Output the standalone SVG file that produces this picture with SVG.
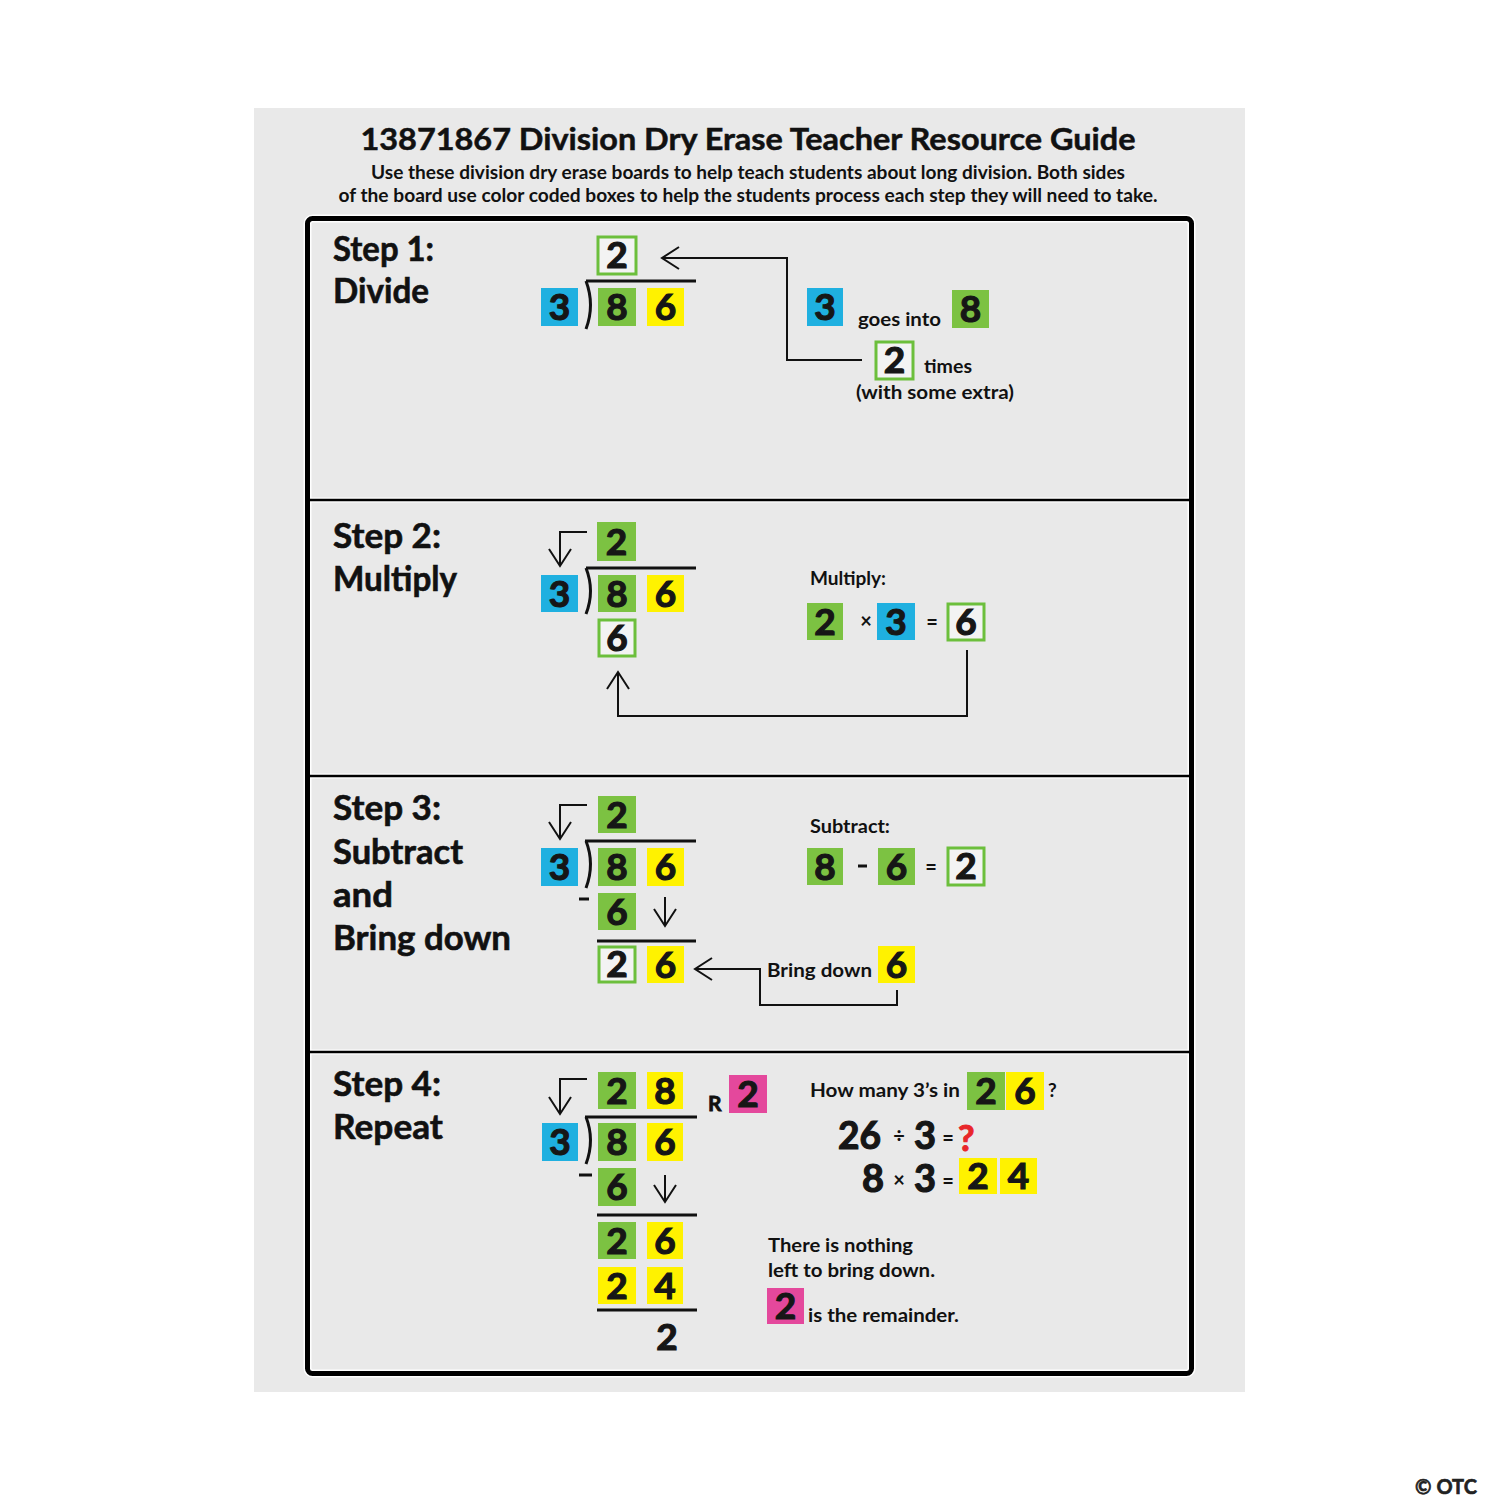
<svg xmlns="http://www.w3.org/2000/svg" width="1500" height="1500" viewBox="0 0 1500 1500">
<defs>
<style>
.bl{fill:#1fb0e0}
.gr{fill:#7cc242}
.ye{fill:#fff200}
.pk{fill:#e4489c}
.ol{fill:#f3f3f3;stroke:#6cbf3c;stroke-width:3}
.d{font-family:Lato,"DejaVu Sans",sans-serif;font-weight:700;font-size:37px;fill:#161616;stroke:#161616;stroke-width:1.2;text-anchor:middle}
.big{font-family:Lato,"DejaVu Sans",sans-serif;font-weight:700;font-size:38px;fill:#161616;stroke:#161616;stroke-width:1.2}
.t{font-family:Lato,"Liberation Sans",sans-serif;font-size:19px;fill:#111;font-weight:700}
.lab{font-family:Lato,"Liberation Sans",sans-serif;font-size:34px;font-weight:700;fill:#111;stroke:#111;stroke-width:0.6}
.ln{stroke:#111;stroke-width:3;fill:none}
.ar{stroke:#111;stroke-width:2;fill:none}
.op{font-family:Lato,"Liberation Sans",sans-serif;font-size:20px;font-weight:700;fill:#111;text-anchor:middle}
</style>
<marker id="ah" markerUnits="userSpaceOnUse" viewBox="-20 -13 22 26" markerWidth="22" markerHeight="26" refX="0" refY="0" orient="auto">
<path d="M-17,-11 L0,0 L-17,11" fill="none" stroke="#111" stroke-width="2"/>
</marker>
</defs>
<rect x="0" y="0" width="1500" height="1500" fill="#ffffff"/>
<rect x="254" y="108" width="991" height="1284" fill="#e9e9e9"/>

<g id="title">
<text x="748" y="150" text-anchor="middle" font-family="Lato,'Liberation Sans',sans-serif" font-size="30" font-weight="700" fill="#111" stroke="#111" stroke-width="0.5" textLength="775" lengthAdjust="spacingAndGlyphs">13871867 Division Dry Erase Teacher Resource Guide</text>
<text x="748" y="179" text-anchor="middle" font-family="Lato,'Liberation Sans',sans-serif" font-size="18" font-weight="700" fill="#111" textLength="754" lengthAdjust="spacingAndGlyphs">Use these division dry erase boards to help teach students about long division. Both sides</text>
<text x="748" y="202" text-anchor="middle" font-family="Lato,'Liberation Sans',sans-serif" font-size="18" font-weight="700" fill="#111" textLength="819" lengthAdjust="spacingAndGlyphs">of the board use color coded boxes to help the students process each step they will need to take.</text>
</g>

<g id="frame">
<rect x="307.5" y="218.5" width="884" height="1155" rx="5" fill="none" stroke="#ffffff" stroke-width="8"/>
<rect x="307.5" y="218.5" width="884" height="1155" rx="5" fill="none" stroke="#000" stroke-width="5"/>
<g stroke="#fff" stroke-width="5">
<line x1="310" y1="500" x2="1189" y2="500"/>
<line x1="310" y1="776" x2="1189" y2="776"/>
<line x1="310" y1="1052" x2="1189" y2="1052"/>
</g>
<g stroke="#000" stroke-width="2.5">
<line x1="310" y1="500" x2="1189" y2="500"/>
<line x1="310" y1="776" x2="1189" y2="776"/>
<line x1="310" y1="1052" x2="1189" y2="1052"/>
</g>
</g>

<g id="labels">
<text class="lab" x="333" y="261" textLength="101" lengthAdjust="spacingAndGlyphs">Step 1:</text>
<text class="lab" x="333" y="303" textLength="96" lengthAdjust="spacingAndGlyphs">Divide</text>
<text class="lab" x="333" y="548" textLength="108" lengthAdjust="spacingAndGlyphs">Step 2:</text>
<text class="lab" x="333" y="591" textLength="124" lengthAdjust="spacingAndGlyphs">Multiply</text>
<text class="lab" x="333" y="820" textLength="108" lengthAdjust="spacingAndGlyphs">Step 3:</text>
<text class="lab" x="333" y="864" textLength="130" lengthAdjust="spacingAndGlyphs">Subtract</text>
<text class="lab" x="333" y="907" textLength="60" lengthAdjust="spacingAndGlyphs">and</text>
<text class="lab" x="333" y="950" textLength="178" lengthAdjust="spacingAndGlyphs">Bring down</text>
<text class="lab" x="333" y="1096" textLength="108" lengthAdjust="spacingAndGlyphs">Step 4:</text>
<text class="lab" x="333" y="1139" textLength="110" lengthAdjust="spacingAndGlyphs">Repeat</text>
</g>

<g id="connectors">
<path class="ar" d="M862,360 H787 V258 H662" marker-end="url(#ah)"/>
<path class="ar" d="M587,532 H560 V566" marker-end="url(#ah)"/>
<path class="ar" d="M967,650 V716 H618 V672" marker-end="url(#ah)"/>
<path class="ar" d="M587,805 H560 V839" marker-end="url(#ah)"/>
<path class="ar" d="M665,897 V926" marker-end="url(#ah)"/>
<path class="ar" d="M897,990 V1005 H760 V969 H695" marker-end="url(#ah)"/>
<path class="ar" d="M587,1079 H560 V1114" marker-end="url(#ah)"/>
<path class="ar" d="M665,1175 V1202" marker-end="url(#ah)"/>
</g>

<g id="step1">
<g id="s1-q2"><rect class="ol" x="598" y="237" width="38" height="37"/><text class="d" x="617" y="268">2</text></g>
<path class="ln" d="M586,281 H696"/>
<path class="ln" d="M586,281 Q595,305 586,329"/>
<g id="s1-d3"><rect class="bl" x="541" y="288" width="37" height="38"/><text class="d" x="559.5" y="320">3</text></g>
<g id="s1-8"><rect class="gr" x="598" y="288" width="38" height="38"/><text class="d" x="617" y="320">8</text></g>
<g id="s1-6"><rect class="ye" x="647" y="288" width="37" height="38"/><text class="d" x="665.5" y="320">6</text></g>
<g id="s1-r3"><rect class="bl" x="807" y="288" width="36" height="38"/><text class="d" x="825" y="320">3</text></g>
<text class="t" x="858" y="326" textLength="83" lengthAdjust="spacingAndGlyphs">goes into</text>
<g id="s1-r8"><rect class="gr" x="952" y="290" width="37" height="38"/><text class="d" x="970.5" y="322">8</text></g>
<g id="s1-r2"><rect class="ol" x="876" y="342" width="37" height="37"/><text class="d" x="894.5" y="373">2</text></g>
<text class="t" x="924" y="373" textLength="48" lengthAdjust="spacingAndGlyphs">times</text>
<text class="t" x="856" y="399" textLength="158" lengthAdjust="spacingAndGlyphs">(with some extra)</text>
</g>

<g id="step2">
<g id="s2-q2"><rect class="gr" x="597" y="522" width="39" height="39"/><text class="d" x="616.5" y="555">2</text></g>
<path class="ln" d="M586,568 H696"/>
<path class="ln" d="M586,568 Q595,591 586,614"/>
<g id="s2-d3"><rect class="bl" x="541" y="575" width="37" height="37"/><text class="d" x="559.5" y="607">3</text></g>
<g id="s2-8"><rect class="gr" x="598" y="575" width="38" height="37"/><text class="d" x="617" y="607">8</text></g>
<g id="s2-6"><rect class="ye" x="647" y="575" width="37" height="37"/><text class="d" x="665.5" y="607">6</text></g>
<g id="s2-p6"><rect class="ol" x="599" y="620" width="36" height="36"/><text class="d" x="617" y="651">6</text></g>
<text class="t" x="810" y="585" textLength="76" lengthAdjust="spacingAndGlyphs">Multiply:</text>
<g id="s2-r2"><rect class="gr" x="807" y="603" width="36" height="37"/><text class="d" x="825" y="635">2</text></g>
<text class="op" x="866" y="628">×</text>
<g id="s2-r3"><rect class="bl" x="877" y="603" width="38" height="37"/><text class="d" x="896" y="635">3</text></g>
<text class="op" x="932" y="629">=</text>
<g id="s2-r6"><rect class="ol" x="948" y="604" width="36" height="36"/><text class="d" x="966" y="635">6</text></g>
</g>

<g id="step3">
<g id="s3-q2"><rect class="gr" x="598" y="796" width="38" height="37"/><text class="d" x="617" y="828">2</text></g>
<path class="ln" d="M585,841 H696"/>
<path class="ln" d="M586,841 Q595,864 586,888"/>
<g id="s3-d3"><rect class="bl" x="541" y="848" width="37" height="38"/><text class="d" x="559.5" y="880">3</text></g>
<g id="s3-8"><rect class="gr" x="598" y="848" width="38" height="38"/><text class="d" x="617" y="880">8</text></g>
<g id="s3-6"><rect class="ye" x="647" y="848" width="37" height="38"/><text class="d" x="665.5" y="880">6</text></g>
<path class="ln" d="M579,899 H589"/>
<g id="s3-m6"><rect class="gr" x="598" y="893" width="38" height="37"/><text class="d" x="617" y="925">6</text></g>
<path class="ln" d="M597,941 H696"/>
<g id="s3-b2"><rect class="ol" x="599" y="947" width="36" height="35"/><text class="d" x="617" y="977">2</text></g>
<g id="s3-b6"><rect class="ye" x="647" y="946" width="37" height="37"/><text class="d" x="665.5" y="978">6</text></g>
<text class="t" x="767" y="977" textLength="105" lengthAdjust="spacingAndGlyphs">Bring down</text>
<g id="s3-r6"><rect class="ye" x="878" y="946" width="37" height="37"/><text class="d" x="896.5" y="978">6</text></g>
<text class="t" x="810" y="833" textLength="80" lengthAdjust="spacingAndGlyphs">Subtract:</text>
<g id="s3-r8"><rect class="gr" x="807" y="848" width="36" height="37"/><text class="d" x="825" y="880">8</text></g>
<path class="ln" d="M858,866 H867"/>
<g id="s3-rm6"><rect class="gr" x="878" y="848" width="37" height="37"/><text class="d" x="896.5" y="880">6</text></g>
<text class="op" x="931" y="874">=</text>
<g id="s3-r2"><rect class="ol" x="948" y="848" width="36" height="37"/><text class="d" x="966" y="879">2</text></g>
</g>

<g id="step4">
<g id="s4-q2"><rect class="gr" x="598" y="1072" width="38" height="37"/><text class="d" x="617" y="1104">2</text></g>
<g id="s4-q8"><rect class="ye" x="647" y="1072" width="36" height="37"/><text class="d" x="665" y="1104">8</text></g>
<text x="708" y="1111" font-family="Lato,'Liberation Sans',sans-serif" font-size="21" font-weight="700" fill="#111" stroke="#111" stroke-width="0.8">R</text>
<g id="s4-rem"><rect class="pk" x="729" y="1075" width="38" height="38"/><text class="d" x="748" y="1107">2</text></g>
<path class="ln" d="M585,1117 H697"/>
<path class="ln" d="M586,1117 Q595,1140 586,1164"/>
<g id="s4-d3"><rect class="bl" x="542" y="1123" width="36" height="38"/><text class="d" x="560" y="1155">3</text></g>
<g id="s4-8"><rect class="gr" x="598" y="1123" width="38" height="38"/><text class="d" x="617" y="1155">8</text></g>
<g id="s4-6"><rect class="ye" x="647" y="1123" width="36" height="38"/><text class="d" x="665" y="1155">6</text></g>
<path class="ln" d="M579,1175 H592"/>
<g id="s4-m6"><rect class="gr" x="598" y="1168" width="38" height="38"/><text class="d" x="617" y="1200">6</text></g>
<path class="ln" d="M597,1215 H697"/>
<g id="s4-b2"><rect class="gr" x="598" y="1222" width="38" height="37"/><text class="d" x="617" y="1254">2</text></g>
<g id="s4-b6"><rect class="ye" x="647" y="1222" width="36" height="37"/><text class="d" x="665" y="1254">6</text></g>
<g id="s4-s2"><rect class="ye" x="598" y="1267" width="38" height="37"/><text class="d" x="617" y="1299">2</text></g>
<g id="s4-s4"><rect class="ye" x="647" y="1267" width="36" height="37"/><text class="d" x="665" y="1299">4</text></g>
<path class="ln" d="M597,1310 H697"/>
<text class="d" x="667" y="1350">2</text>
<text class="t" x="810" y="1097" textLength="150" lengthAdjust="spacingAndGlyphs">How many 3’s in</text>
<g id="s4-h2"><rect class="gr" x="967" y="1072" width="38" height="38"/><text class="d" x="986" y="1104">2</text></g>
<g id="s4-h6"><rect class="ye" x="1006" y="1072" width="38" height="38"/><text class="d" x="1025" y="1104">6</text></g>
<text class="t" x="1048" y="1097">?</text>
<text class="big" x="838" y="1149" textLength="43" lengthAdjust="spacingAndGlyphs">26</text>
<text class="op" x="899" y="1143" font-size="22">÷</text>
<text class="big" x="914" y="1149">3</text>
<text class="op" x="948" y="1145" font-size="18">=</text>
<text x="958" y="1151" font-family="Lato,'Liberation Sans',sans-serif" font-size="36" font-weight="700" fill="#e8262a" stroke="#e8262a" stroke-width="1">?</text>
<text class="big" x="862" y="1192">8</text>
<text class="op" x="899" y="1187" font-size="18">×</text>
<text class="big" x="914" y="1192">3</text>
<text class="op" x="948" y="1188" font-size="18">=</text>
<g id="s4-p2"><rect class="ye" x="959" y="1158" width="38" height="36"/><text class="d" x="978" y="1189">2</text></g>
<g id="s4-p4"><rect class="ye" x="1000" y="1158" width="37" height="36"/><text class="d" x="1018.5" y="1189">4</text></g>
<text class="t" x="768" y="1252" textLength="145" lengthAdjust="spacingAndGlyphs">There is nothing</text>
<text class="t" x="768" y="1277" textLength="167" lengthAdjust="spacingAndGlyphs">left to bring down.</text>
<g id="s4-r2"><rect class="pk" x="767" y="1288" width="37" height="36"/><text class="d" x="785.5" y="1319">2</text></g>
<text class="t" x="808" y="1322" textLength="151" lengthAdjust="spacingAndGlyphs">is the remainder.</text>
</g>

<text x="1446" y="1494" text-anchor="middle" font-family="Lato,'Liberation Sans',sans-serif" font-size="20" font-weight="700" fill="#222" stroke="#222" stroke-width="0.6">© OTC</text>
</svg>
